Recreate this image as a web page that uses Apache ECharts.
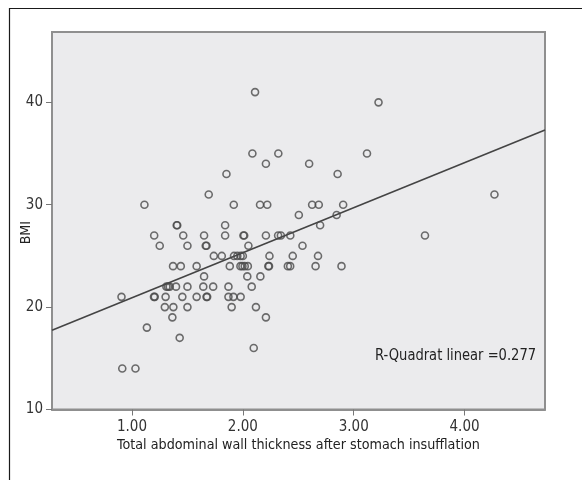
<!DOCTYPE html>
<html>
<head>
<meta charset="utf-8">
<script src="https://cdn.jsdelivr.net/npm/echarts@6/dist/echarts.min.js"></script>
<style>
html,body{margin:0;padding:0;background:#fff;}
#c{width:582px;height:480px;}
</style>
</head>
<body>
<div id="c"></div>
<script>
// Data
var thickness = [
  2.11, 3.224,
  2.086, 2.32, 3.12,
  2.208, 2.598,
  1.852, 2.855,
  1.692, 4.27,
  1.112, 1.918, 2.155, 2.22, 2.625, 2.685, 2.905,
  2.505, 2.846,
  1.403, 1.408, 1.84, 2.697,
  1.2, 1.462, 1.65, 1.84, 2.005, 2.012, 2.208, 2.318, 2.343, 2.428, 3.643,
  1.25, 1.50, 1.665, 1.672, 2.05, 2.538,
  1.738, 1.81, 1.92, 1.95, 1.98, 2.0, 2.24, 2.45, 2.678,
  1.37, 1.44, 1.583, 1.882, 1.978, 1.996, 2.017, 2.045, 2.23, 2.236, 2.406, 2.427, 2.656, 2.89,
  1.65, 2.04, 2.158,
  1.31, 1.325, 1.34, 1.397, 1.5, 1.643, 1.732, 1.87, 2.08,
  0.905, 1.198, 1.205, 1.303, 1.454, 1.583, 1.672, 1.678, 1.87, 1.915, 1.98,
  1.296, 1.373, 1.5, 1.899, 2.118,
  1.364, 2.208,
  1.134,
  1.43,
  2.098,
  0.912, 1.031
];
var bmi = [
  41, 40,
  35, 35, 35,
  34, 34,
  33, 33,
  31, 31,
  30, 30, 30, 30, 30, 30, 30,
  29, 29,
  28, 28, 28, 28,
  27, 27, 27, 27, 27, 27, 27, 27, 27, 27, 27,
  26, 26, 26, 26, 26, 26,
  25, 25, 25, 25, 25, 25, 25, 25, 25,
  24, 24, 24, 24, 24, 24, 24, 24, 24, 24, 24, 24, 24, 24,
  23, 23, 23,
  22, 22, 22, 22, 22, 22, 22, 22, 22,
  21, 21, 21, 21, 21, 21, 21, 21, 21, 21, 21,
  20, 20, 20, 20, 20,
  19, 19,
  18,
  17,
  16,
  14, 14
];
// Fit line end points (as drawn in the reference)
var fitX = [0.278, 4.726];
var fitY = [17.75, 37.3];
var xTicks = [1, 2, 3, 4];
var yTicks = [10, 20, 30, 40];
var xTitle = 'Total abdominal wall thickness after stomach insufflation';
var yTitle = 'BMI';
var rsqText = 'R-Quadrat linear =0.277';

var FONT = '"DejaVu Sans Condensed", "Liberation Sans Narrow", "Arial Narrow", sans-serif';

var points = thickness.map(function (x, i) { return [x, bmi[i]]; });
var fitData = fitX.map(function (x, i) { return [x, fitY[i]]; });

var chart = echarts.init(document.getElementById('c'), null, {renderer: 'canvas'});
chart.setOption({
  animation: false,
  backgroundColor: '#ffffff',
  grid: {
    left: 52, top: 32, right: 37, bottom: 70.5,
    show: true,
    backgroundColor: '#ebebed',
    borderColor: '#8f8f8f',
    borderWidth: 2
  },
  xAxis: {
    type: 'value',
    min: 0.278, max: 4.726,
    splitLine: {show: false},
    axisLine: {show: true, lineStyle: {color: '#8f8f8f', width: 2}},
    axisTick: {show: true, length: 6, lineStyle: {color: '#777', width: 1}, customValues: xTicks},
    axisLabel: {
      customValues: xTicks,
      color: '#333', fontFamily: FONT, fontSize: 15, margin: 10,
      formatter: function (v) { return v.toFixed(2); }
    },
    name: xTitle,
    nameLocation: 'middle',
    nameGap: 29,
    nameMoveOverlap: false,
    nameTextStyle: {color: '#222', fontFamily: FONT, fontSize: 14.2}
  },
  yAxis: {
    type: 'value',
    min: 10, max: 46.87,
    interval: 10,
    splitLine: {show: false},
    axisLine: {show: true, lineStyle: {color: '#8f8f8f', width: 2}},
    axisTick: {show: true, length: 6, lineStyle: {color: '#777', width: 1}},
    axisLabel: {
      color: '#333', fontFamily: FONT, fontSize: 15, margin: 9,
      showMaxLabel: false,
      formatter: function (v) { return yTicks.indexOf(v) >= 0 ? String(v) : ''; }
    },
    name: yTitle,
    nameLocation: 'middle',
    nameGap: 19,
    nameMoveOverlap: false,
    nameRotate: 90,
    nameTextStyle: {color: '#222', fontFamily: FONT, fontSize: 14, padding: [0, 24, 0, 0]}
  },
  series: [
    {
      type: 'line',
      data: fitData,
      symbol: 'none',
      lineStyle: {color: '#444', width: 1.6},
      z: 2,
      silent: true
    },
    {
      type: 'scatter',
      data: points,
      symbol: 'circle',
      symbolSize: 7,
      itemStyle: {color: 'rgba(0,0,0,0)', borderColor: '#4a4a4a', borderWidth: 1.6},
      z: 3
    }
  ],
  graphic: [
    {type: 'line', shape: {x1: 9, y1: 8.5, x2: 582, y2: 8.5}, style: {stroke: '#1a1a1a', lineWidth: 1.2}, silent: true},
    {type: 'line', shape: {x1: 9.5, y1: 8, x2: 9.5, y2: 480}, style: {stroke: '#1a1a1a', lineWidth: 1.2}, silent: true},
    {type: 'text', x: 375, y: 348, scaleX: 0.91, z: 10,
     style: {text: rsqText, fill: '#222', font: '16px ' + FONT}}
  ]
});
</script>
</body>
</html>
